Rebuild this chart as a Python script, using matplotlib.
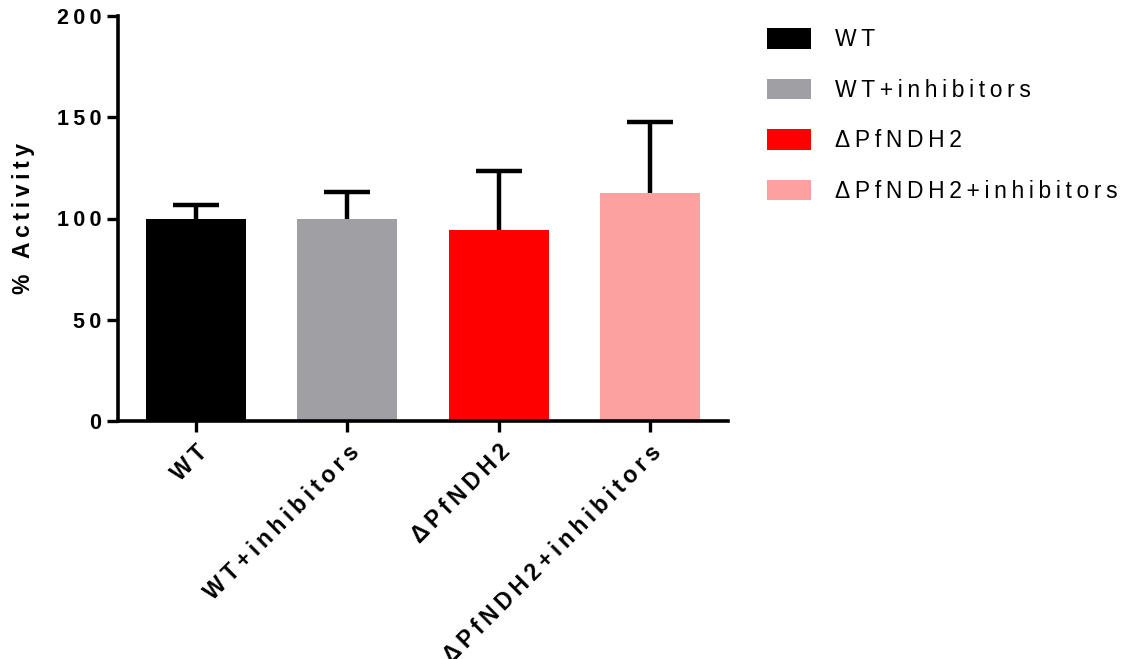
import matplotlib
matplotlib.use("Agg")
import matplotlib.pyplot as plt
from matplotlib.patches import Patch

categories = ["WT", "WT+inhibitors", "ΔPfNDH2", "ΔPfNDH2+inhibitors"]
values = [100, 100, 94.3, 112.8]
errors = [6.7, 13.0, 29.0, 35.0]
colors = ["#000000", "#A0A0A4", "#FF0000", "#FCA0A0"]
yticks = [0, 50, 100, 150, 200]
ylabel = "% Activity"

plt.rcParams['font.family'] = ['Liberation Sans', 'DejaVu Sans']


def spaced(s, sep='\u2009'):
    # emulate the wide letter spacing of the original (Prism-style) figure
    return sep.join(s)


fig = plt.figure(figsize=(11.41, 6.59), dpi=100)
ax = fig.add_axes([118/1141, 1-421/659, (728-118)/1141, (421-16)/659])

x = list(range(len(categories)))
ax.bar(x, values, width=0.66, color=colors, zorder=2)
eb = ax.errorbar(x, values, yerr=[[0]*len(errors), errors], fmt='none', ecolor='black',
                 elinewidth=3.2, capsize=16.5, capthick=3.2, zorder=3)
# only the upper cap is shown
caplines = eb[1]
if len(caplines) >= 2:
    caplines[0].set_visible(False)

ax.set_xlim(-0.515, 3.515)
ax.set_ylim(0, 200)
ax.set_yticks(yticks)
ax.set_yticklabels([spaced(str(v)) for v in yticks], fontsize=15.5, fontweight='bold')
ax.set_xticks(x)
ax.set_xticklabels([spaced(c) for c in categories], rotation=45, ha='right',
                   rotation_mode='anchor', fontsize=16.5, fontweight='bold')
ax.tick_params(axis='both', width=2.4, length=8, direction='out')
ax.tick_params(axis='y', pad=4)
ax.tick_params(axis='x', pad=6)
for s in ['top', 'right']:
    ax.spines[s].set_visible(False)
for s in ['left', 'bottom']:
    ax.spines[s].set_linewidth(2.6)
ax.set_ylabel(spaced(ylabel), fontsize=16.5, fontweight='bold', labelpad=16)

handles = [Patch(facecolor=c, edgecolor='none') for c in colors]
fig.legend(handles, [spaced(c) for c in categories], loc='upper left',
           bbox_to_anchor=(767/1141, 1-28/659),
           frameon=False, fontsize=16.5, handlelength=1.9, handleheight=1.0,
           labelspacing=1.2, handletextpad=1.05, borderpad=0, borderaxespad=0)

fig.savefig("out.png", dpi=100)
